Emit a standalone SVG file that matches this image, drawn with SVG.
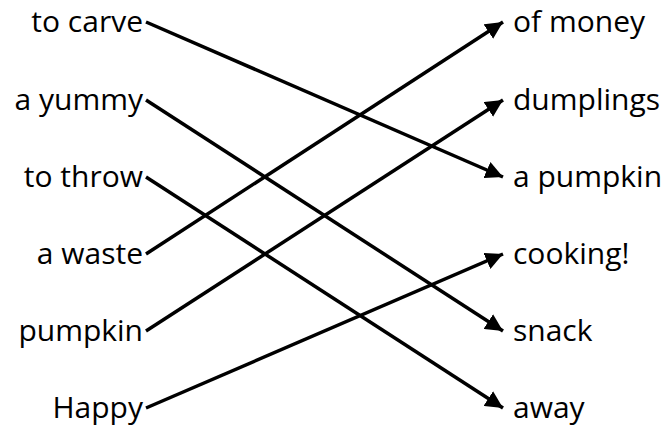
<svg xmlns="http://www.w3.org/2000/svg" width="665" height="432" viewBox="0 0 665 432">
<style>
text{font-family:"Open Sans","Lato",sans-serif;font-size:30px;font-weight:500;fill:#000}
.l{text-anchor:end}
.r{text-anchor:start}
.c{stroke:#000;stroke-width:3.5;fill:none}
</style>
<defs>
<marker id="a" viewBox="0 0 10 10" refX="10" refY="5" markerWidth="5" markerHeight="5" markerUnits="strokeWidth" orient="auto">
<path d="M0,0 L10,5 L0,10 z" fill="#000"/>
</marker>
</defs>
<rect width="665" height="432" fill="#fff"/>
<g id="n-to-carve"><text class="l" x="143" y="32">to carve</text></g>
<g id="n-a-yummy"><text class="l" x="143" y="110">a yummy</text></g>
<g id="n-to-throw"><text class="l" x="143" y="187">to throw</text></g>
<g id="n-a-waste"><text class="l" x="143" y="264">a waste</text></g>
<g id="n-pumpkin"><text class="l" x="143" y="341">pumpkin</text></g>
<g id="n-happy"><text class="l" x="143" y="418">Happy</text></g>
<g id="n-of-money"><text class="r" x="513" y="32">of money</text></g>
<g id="n-dumplings"><text class="r" x="513" y="110">dumplings</text></g>
<g id="n-a-pumpkin"><text class="r" x="513" y="187">a pumpkin</text></g>
<g id="n-cooking"><text class="r" x="513" y="264">cooking!</text></g>
<g id="n-snack"><text class="r" x="513" y="341">snack</text></g>
<g id="n-away"><text class="r" x="513" y="418">away</text></g>
<g id="connectors">
<line class="c" x1="146" y1="22" x2="503" y2="177" marker-end="url(#a)"/>
<line class="c" x1="146" y1="100" x2="503" y2="331" marker-end="url(#a)"/>
<line class="c" x1="146" y1="177" x2="503" y2="408" marker-end="url(#a)"/>
<line class="c" x1="146" y1="254" x2="503" y2="22" marker-end="url(#a)"/>
<line class="c" x1="146" y1="331" x2="503" y2="100" marker-end="url(#a)"/>
<line class="c" x1="146" y1="408" x2="503" y2="254" marker-end="url(#a)"/>
</g>
</svg>
